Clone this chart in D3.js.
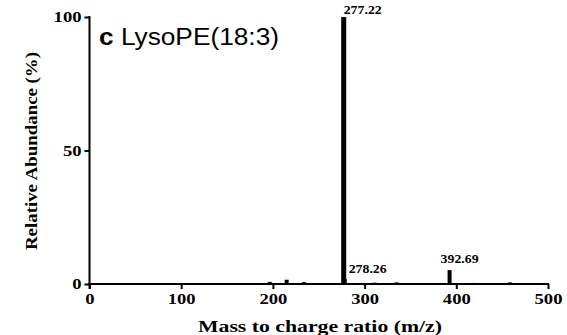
<!DOCTYPE html>
<html>
<head>
<meta charset="utf-8">
<script src="https://cdn.jsdelivr.net/npm/d3@7"></script>
<style>
  body { margin: 0; background: #fff; }
  svg { display: block; }
</style>
</head>
<body>
<svg id="chart" width="567" height="335"></svg>
<script>
/* peak list */
const peakMz = [196.5, 204, 215, 234, 259, 268, 277.22, 278.26, 311, 324, 335, 392.69, 405, 418, 444, 458.6, 473];
const peakAbund = [0.8, 0.4, 1.6, 0.7, 0.2, 0.3, 100, 1.8, 0.5, 0.3, 0.6, 5.2, 0.3, 0.4, 0.2, 0.6, 0.3];
const labelledMz = ["277.22", "278.26", "392.69"];
const xTicks = [0, 100, 200, 300, 400, 500];
const yTicks = [0, 50, 100];

const svg = d3.select("#chart");
const serif = "'Liberation Serif', 'Times New Roman', serif";

const x = d3.scaleLinear().domain([0, 500]).range([89.5, 548]);
const y = d3.scaleLinear().domain([0, 100]).range([284, 17]);

/* peaks */
svg.selectAll(".peak")
    .data(peakMz.map((m, i) => ({ mz: m, ab: peakAbund[i] })))
    .enter()
    .append("rect")
    .attr("class", "peak")
    .attr("x", d => x(d.mz) - (d.ab > 50 ? 2.5 : 2))
    .attr("width", d => d.ab > 50 ? 5 : 4)
    .attr("y", d => y(d.ab))
    .attr("height", d => y(0) - y(d.ab))
    .style("fill", "#000");

/* tick text is a bit wider than the font in the source image */
function styleTicks(g) {
    g.selectAll("text")
        .style("font-family", serif)
        .style("font-weight", "bold")
        .style("font-size", "15px")
        .attr("fill", "#000")
        .attr("textLength", d => String(d).length * 9.3)
        .attr("lengthAdjust", "spacingAndGlyphs");
}

/* x axis */
const xAxis = d3.axisBottom(x).tickValues(xTicks).tickSize(5).tickSizeOuter(0).tickPadding(4);
svg.append("g")
    .attr("transform", "translate(0," + y(0) + ")")
    .call(xAxis)
    .call(g => g.select(".domain").attr("stroke-width", 2).attr("d", "M" + (x(0) - 1) + ",0H" + (x(500) + 1)))
    .call(g => g.selectAll(".tick line").attr("stroke-width", 2))
    .call(styleTicks);

/* y axis */
const yAxis = d3.axisLeft(y).tickValues(yTicks).tickSize(5).tickSizeOuter(0).tickPadding(3);
svg.append("g")
    .attr("transform", "translate(" + x(0) + ",0)")
    .call(yAxis)
    .call(g => g.select(".domain").attr("stroke-width", 2).attr("d", "M0," + (y(100) - 1) + "V" + (y(0) + 5)))
    .call(g => g.selectAll(".tick line").attr("stroke-width", 2))
    .call(styleTicks);

/* peak labels */
const labelPos = {
    "277.22": { dx: 0, y: 14 },
    "278.26": { dx: 4, y: 273 },
    "392.69": { dx: -9, y: 263 }
};
svg.selectAll(".peakLabel")
    .data(labelledMz)
    .enter()
    .append("text")
    .attr("class", "peakLabel")
    .attr("x", d => x(+d) + labelPos[d].dx)
    .attr("y", d => labelPos[d].y)
    .attr("textLength", 38)
    .attr("lengthAdjust", "spacingAndGlyphs")
    .style("font-family", serif)
    .style("font-weight", "bold")
    .style("font-size", "11.5px")
    .text(d => d);

/* panel title */
const title = svg.append("text")
    .attr("x", 99)
    .attr("y", 45)
    .style("font-family", "'Liberation Sans', Arial, sans-serif")
    .style("font-size", "23px");
title.append("tspan").style("font-weight", "bold").text("c");
title.append("tspan").text(" LysoPE(18:3)");
title.attr("textLength", 180).attr("lengthAdjust", "spacingAndGlyphs");

/* axis titles */
svg.append("text")
    .attr("x", 198)
    .attr("y", 332)
    .attr("textLength", 244)
    .attr("lengthAdjust", "spacingAndGlyphs")
    .style("font-family", serif)
    .style("font-weight", "bold")
    .style("font-size", "16px")
    .text("Mass to charge ratio (m/z)");

svg.append("text")
    .attr("transform", "translate(37,151) rotate(-90)")
    .attr("text-anchor", "middle")
    .attr("textLength", 198)
    .attr("lengthAdjust", "spacingAndGlyphs")
    .style("font-family", serif)
    .style("font-weight", "bold")
    .style("font-size", "16px")
    .text("Relative Abundance (%)");
</script>
</body>
</html>
